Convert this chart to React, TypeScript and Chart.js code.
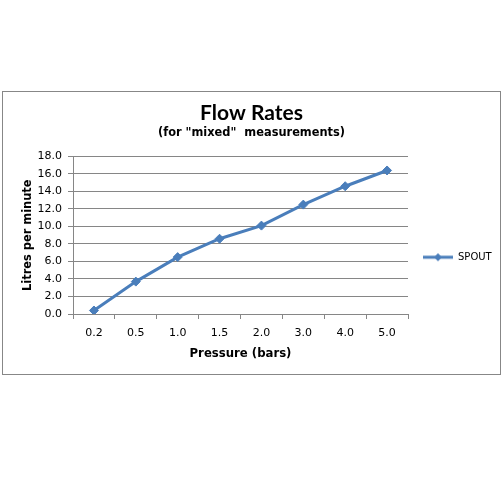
import React, { useEffect, useRef } from "react";
import { Chart, registerables } from "chart.js";

Chart.register(...registerables);

const categories = ["0.2", "0.5", "1.0", "1.5", "2.0", "3.0", "4.0", "5.0"];
const spoutValues = [0.4, 3.7, 6.5, 8.6, 10.1, 12.5, 14.6, 16.4];
const seriesName = "SPOUT";
const yMin = 0;
const yMax = 18;
const yStep = 2;
const titleText = "Flow Rates";
const subtitleText = '(for "mixed"  measurements)';
const xTitle = "Pressure (bars)";
const yTitle = "Litres per minute";

const BLUE = "#4a7ebb";
const GRID = "#868686";

function makeLegendIcon(): HTMLCanvasElement {
  const c = document.createElement("canvas");
  c.width = 30;
  c.height = 10;
  const ctx = c.getContext("2d")!;
  ctx.strokeStyle = BLUE;
  ctx.lineWidth = 3;
  ctx.beginPath();
  ctx.moveTo(0, 5);
  ctx.lineTo(30, 5);
  ctx.stroke();
  ctx.fillStyle = BLUE;
  ctx.beginPath();
  ctx.moveTo(15, 1);
  ctx.lineTo(19, 5);
  ctx.lineTo(15, 9);
  ctx.lineTo(11, 5);
  ctx.closePath();
  ctx.fill();
  return c;
}

export default function App() {
  const ref = useRef<HTMLCanvasElement | null>(null);

  useEffect(() => {
    if (!ref.current) return;
    const icon = makeLegendIcon();
    const legendPlugin = {
      id: "legendTweak",
      beforeLayout(chart: any) {
        const lg = chart.legend;
        if (lg && !lg._patched) {
          const f = lg.fit;
          lg.fit = function () {
            f.call(this);
            this.width = 92;
          };
          lg._patched = true;
        }
      },
      afterLayout(chart: any) {
        const lg = chart.legend;
        if (lg) {
          lg.top += 22;
          lg.bottom += 22;
        }
      },
    };
    const chart = new Chart(ref.current, {
      type: "line",
      data: {
        labels: categories,
        datasets: [
          {
            label: seriesName,
            data: spoutValues,
            borderColor: BLUE,
            backgroundColor: BLUE,
            borderWidth: 3,
            pointStyle: "rectRot",
            pointRadius: 4.5,
            pointBackgroundColor: BLUE,
            pointBorderColor: BLUE,
            pointBorderWidth: 1,
            tension: 0,
          },
        ],
      },
      options: {
        animation: false,
        responsive: true,
        maintainAspectRatio: false,
        layout: { padding: { left: 0, right: 0, top: 0, bottom: 10 } },
        plugins: {
          tooltip: { enabled: false },
          title: {
            display: true,
            text: titleText,
            color: "#000",
            font: { family: "Lato", size: 21, weight: "bold" },
            padding: { top: 8.4, bottom: 0 },
          },
          subtitle: {
            display: true,
            text: subtitleText,
            color: "#000",
            font: { family: "DejaVu Sans", size: 11.4, weight: "bold" },
            padding: { top: 0.4, bottom: 16.8 },
          },
          legend: {
            display: true,
            position: "right",
            fullSize: false,
            labels: {
              usePointStyle: true,
              pointStyle: icon as any,
              pointStyleWidth: 30,
              boxHeight: 10,
              padding: 15,
              color: "#000",
              font: { family: "DejaVu Sans", size: 10 },
              generateLabels: (ch: any) =>
                ch.data.datasets.map((ds: any, i: number) => ({
                  text: ds.label,
                  pointStyle: icon,
                  fillStyle: BLUE,
                  strokeStyle: BLUE,
                  lineWidth: 0,
                  datasetIndex: i,
                  hidden: false,
                  fontColor: "#000",
                })),
            },
          },
        },
        scales: {
          x: {
            type: "category",
            offset: true,
            grid: {
              display: true,
              offset: true,
              drawOnChartArea: false,
              drawTicks: true,
              tickLength: 5,
              color: GRID,
            },
            border: { display: true, color: GRID },
            ticks: {
              color: "#000",
              padding: 7.5,
              font: { family: "DejaVu Sans", size: 11 },
              maxRotation: 0,
              autoSkip: false,
            },
            title: {
              display: true,
              text: xTitle,
              color: "#000",
              font: { family: "DejaVu Sans", size: 11.7, weight: "bold" },
              padding: { top: 0, bottom: 3 },
            },
            afterFit: (s: any) => {
              s.height = 50;
            },
          },
          y: {
            min: yMin,
            max: yMax,
            grid: { color: GRID, tickLength: 5, drawTicks: true },
            border: { display: true, color: GRID },
            ticks: {
              stepSize: yStep,
              color: "#000",
              padding: 6,
              font: { family: "DejaVu Sans", size: 11 },
              callback: (v: any) => Number(v).toFixed(1),
            },
            title: {
              display: true,
              text: yTitle,
              color: "#000",
              font: { family: "DejaVu Sans", size: 11.4, weight: "bold" },
              padding: { top: 18.2, bottom: 0 },
            },
            afterFit: (s: any) => {
              s.width = 70;
            },
          },
        },
      },
      plugins: [legendPlugin],
    });
    return () => chart.destroy();
  }, []);

  return (
    <div
      style={{
        position: "absolute",
        left: 2,
        top: 91,
        width: 499,
        height: 284,
        boxSizing: "border-box",
        border: "1px solid #878787",
        background: "#fff",
      }}
    >
      <div style={{ position: "relative", width: 497, height: 282 }}>
        <canvas ref={ref} />
      </div>
    </div>
  );
}
